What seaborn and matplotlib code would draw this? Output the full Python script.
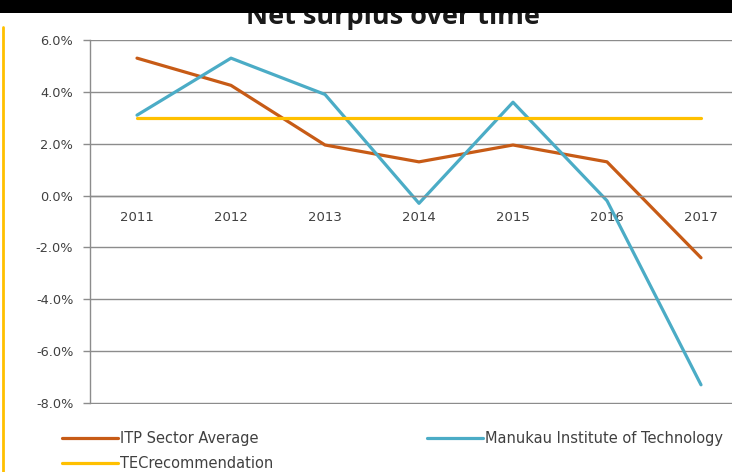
import matplotlib
matplotlib.use("Agg")
import matplotlib.pyplot as plt
import seaborn as sns
import pandas as pd
from matplotlib.patches import Rectangle
from matplotlib.lines import Line2D
from matplotlib.ticker import FuncFormatter, FixedLocator

years = ["2011", "2012", "2013", "2014", "2015", "2016", "2017"]
itp_avg = [5.3, 4.25, 1.95, 1.3, 1.95, 1.3, -2.4]
manukau = [3.1, 5.3, 3.9, -0.3, 3.6, -0.2, -7.3]
tec_rec = [3.0, 3.0, 3.0, 3.0, 3.0, 3.0, 3.0]
series_names = ["ITP Sector Average", "Manukau Institute of Technology", "TECrecommendation"]
colors = ["#C75B16", "#4BACC6", "#FFC000"]
y_ticks = [6, 4, 2, 0, -2, -4, -6, -8]

rows = []
for name, vals in zip(series_names, [itp_avg, manukau, tec_rec]):
    for i, (yr, v) in enumerate(zip(years, vals)):
        rows.append({"pos": i, "year": yr, "value": v, "series": name})
df = pd.DataFrame(rows)

sns.set_theme(style="white")
plt.rcParams['font.family'] = ['DejaVu Sans']

fig = plt.figure(figsize=(7.32, 4.72), dpi=100)
W, H = 732, 472
left, right, top, bottom = 90, 748, 40, 404
ax = fig.add_axes([left / W, (H - bottom) / H, (right - left) / W, (bottom - top) / H])

sns.lineplot(data=df, x="pos", y="value", hue="series", hue_order=series_names,
             palette=colors, linewidth=2.3, ax=ax, legend=False, sort=False)

ax.set_xlim(-0.5, 6.5)
ax.set_ylim(-8.04, 6.0)
ax.yaxis.set_major_locator(FixedLocator(y_ticks))
ax.yaxis.set_major_formatter(FuncFormatter(lambda v, p: f"{v:.1f}%"))
ax.grid(axis="y", color="#8C8C8C", linewidth=1.0)
ax.set_axisbelow(True)
for s in ["top", "right"]:
    ax.spines[s].set_visible(False)
ax.spines["left"].set_color("#8C8C8C")
ax.spines["left"].set_linewidth(1.0)
ax.spines["left"].set_bounds(-8, 6)
ax.spines["bottom"].set_position(("data", 0))
ax.spines["bottom"].set_color("#8C8C8C")
ax.spines["bottom"].set_linewidth(1.0)

ax.set_xticks(range(len(years)))
ax.set_xticklabels(years)
ax.set_xticks([i + 0.5 for i in range(-1, len(years))], minor=True)
ax.tick_params(axis="x", which="major", length=0, pad=11, labelsize=9.5, labelcolor="#404040")
ax.tick_params(axis="x", which="minor", length=4, direction="out", color="#8C8C8C", width=1)
ax.tick_params(axis="y", which="major", length=5, direction="out", color="#8C8C8C", width=1,
               labelsize=9.3, labelcolor="#404040", left=True, pad=7)
ax.set_xlabel("")
ax.set_ylabel("")

# title partially hidden by black bar
fig.text(393 / W, 1 - 23.5 / H, "Net surplus over time", ha="center", va="baseline",
         fontsize=19.5, fontweight="bold", color="#1a1a1a", family="Open Sans")
fig.patches.append(Rectangle((0, 1 - 13 / H), 1, 13 / H, transform=fig.transFigure,
                             facecolor="black", edgecolor="none", zorder=10))
fig.add_artist(Line2D([3 / W, 3 / W], [0, 1 - 27 / H], transform=fig.transFigure,
                      color="#FFC000", linewidth=2))

handles = [Line2D([], [], color=colors[0], linewidth=2.3),
           Line2D([], [], color=colors[2], linewidth=2.3),
           Line2D([], [], color=colors[1], linewidth=2.3)]
labels = [series_names[0], series_names[2], series_names[1]]
fig.legend(handles, labels, ncol=2, loc="upper left", bbox_to_anchor=(52 / W, 1 - 421 / H),
           frameon=False, fontsize=10.5, handlelength=3.85, handletextpad=0.1,
           columnspacing=10.55, labelspacing=0.65, labelcolor="#404040",
           borderpad=0.2)

fig.savefig("out.png", dpi=100, facecolor="white")
